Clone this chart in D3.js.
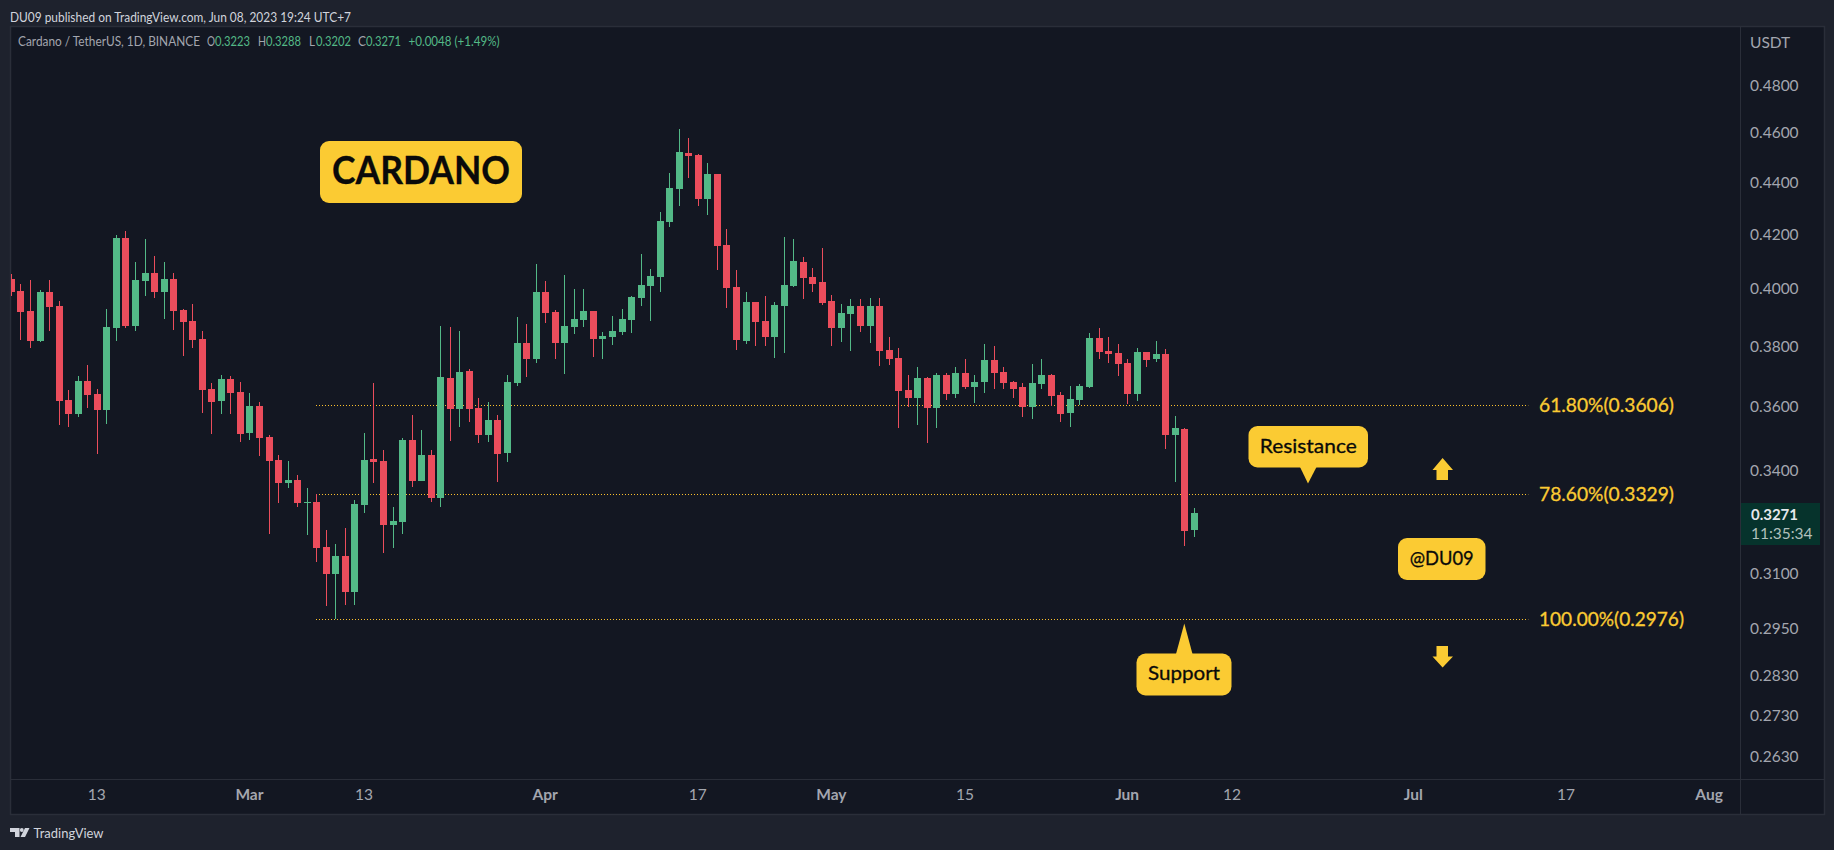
<!DOCTYPE html>
<html>
<head>
<meta charset="utf-8">
<script src="https://cdn.jsdelivr.net/npm/d3@7"></script>
<style>
  html, body { margin: 0; padding: 0; background: #1e222d; }
  svg { display: block; }
  text { font-family: Lato, "Open Sans", sans-serif; }
  .domain { display: none; }
</style>
</head>
<body>
<div id="chart--wrap"></div>
<script>
// Daily candles, Feb 4 to Jun 8 2023
const firstDay = new Date(Date.UTC(2023, 1, 4));
const lastDay = new Date(Date.UTC(2023, 5, 8));
const opens = [
  .4036,.3993,.3922,.3818,.3989,.3940,.3622,.3577,.3683,.3641,.3590,.3863,.4188,.3870,.4029,.4058,.3989,.4036,.3926,.3887,.3825,.3657,.3618,.3690,.3648,
  .3516,.3602,.3504,.3432,.3362,.3371,.3302,.3305,.3175,.3098,.3149,.3049,.3296,.3435,.3429,.3238,.3246,.3495,.3368,.3447,.3317,.3693,.3593,.3717,.3595,
  .3510,.3557,.3453,.3677,.3811,.3757,.3990,.3918,.3811,.3866,.3891,.3922,.3825,.3831,.3849,.3891,.3968,.4011,.4043,.4248,.4375,.4519,.4511,.4336,.4434,
  .4161,.4007,.3818,.3954,.3887,.3831,.3940,.4011,.4098,.4043,.4025,.3957,.3863,.3912,.3940,.3870,.3940,.3787,.3760,.3654,.3628,.3693,.3595,.3703,.3641,
  .3710,.3664,.3680,.3753,.3713,.3680,.3664,.3599,.3673,.3703,.3637,.3579,.3621,.3664,.3828,.3784,.3777,.3743,.3641,.3781,.3757,.3774,.3509,.3528,.3223
];
const highs = [
  .4054,.4018,.4033,.3996,.4033,.3957,.3654,.3700,.3736,.3657,.3929,.4199,.4214,.4098,.4184,.4120,.4098,.4058,.3929,.3946,.3852,.3676,.3704,.3700,.3680,
  .3644,.3615,.3510,.3447,.3429,.3386,.3347,.3328,.3223,.3183,.3229,.3311,.3516,.3676,.3464,.3290,.3501,.3574,.3526,.3461,.3870,.3866,.3852,.3723,.3628,
  .3615,.3573,.3703,.3901,.3877,.4091,.4029,.3925,.4051,.4000,.4000,.3922,.3849,.3905,.3929,.3975,.4128,.4073,.4285,.4438,.4617,.4580,.4515,.4477,.4434,
  .4221,.4069,.3990,.3954,.3975,.3954,.4191,.4183,.4117,.4076,.4150,.3979,.3947,.3965,.3965,.3968,.3968,.3831,.3794,.3703,.3730,.3697,.3710,.3710,.3730,
  .3757,.3703,.3807,.3801,.3730,.3684,.3677,.3740,.3757,.3707,.3647,.3667,.3673,.3845,.3862,.3831,.3808,.3757,.3794,.3781,.3818,.3791,.3570,.3531,.3288
];
const lows = [
  .3975,.3821,.3794,.3814,.3852,.3541,.3535,.3567,.3596,.3450,.3544,.3818,.3863,.3852,.3975,.3968,.3894,.3856,.3767,.3794,.3580,.3513,.3577,.3577,.3486,
  .3495,.3444,.3212,.3302,.3347,.3290,.3209,.3132,.3012,.2976,.3014,.3014,.3272,.3362,.3158,.3172,.3212,.3350,.3368,.3305,.3290,.3489,.3535,.3551,.3484,
  .3487,.3365,.3426,.3667,.3697,.3744,.3880,.3757,.3706,.3842,.3866,.3764,.3757,.3804,.3839,.3845,.3940,.3887,.3990,.4229,.4309,.4418,.4309,.4274,.4069,
  .3933,.3787,.3807,.3801,.3801,.3760,.3777,.4007,.3965,.3990,.3943,.3801,.3815,.3784,.3849,.3811,.3733,.3737,.3532,.3599,.3541,.3484,.3531,.3621,.3628,
  .3657,.3611,.3644,.3657,.3657,.3628,.3567,.3561,.3657,.3602,.3551,.3535,.3605,.3660,.3757,.3743,.3700,.3608,.3618,.3730,.3747,.3466,.3365,.3178,.3202
];
const closes = [
  .3989,.3918,.3818,.3989,.3936,.3618,.3577,.3683,.3638,.3590,.3866,.4188,.3870,.4033,.4058,.3989,.4036,.3922,.3883,.3821,.3654,.3615,.3690,.3644,.3513,
  .3602,.3501,.3429,.3362,.3371,.3302,.3305,.3172,.3098,.3149,.3049,.3299,.3432,.3426,.3238,.3249,.3495,.3368,.3447,.3317,.3697,.3593,.3714,.3592,.3510,
  .3557,.3450,.3680,.3811,.3757,.3990,.3915,.3811,.3870,.3894,.3922,.3825,.3835,.3852,.3894,.3972,.4015,.4047,.4252,.4379,.4523,.4507,.4336,.4434,.4157,
  .4004,.3821,.3954,.3884,.3831,.3943,.4015,.4102,.4040,.4018,.3950,.3863,.3915,.3940,.3870,.3940,.3784,.3757,.3651,.3628,.3693,.3595,.3703,.3641,.3710,
  .3664,.3680,.3753,.3710,.3677,.3657,.3599,.3677,.3703,.3634,.3576,.3624,.3667,.3828,.3781,.3774,.3740,.3641,.3781,.3753,.3774,.3509,.3531,.3220,.3271
];

// Fib levels
const levelValues = [0.3606, 0.3329, 0.2976];
const levelLabels = ['61.80%(0.3606)', '78.60%(0.3329)', '100.00%(0.2976)'];
const levelStart = new Date(Date.UTC(2023, 2, 8));
const levelEnd = new Date(Date.UTC(2023, 6, 13));

// Axis ticks
const priceTicks = [.48, .46, .44, .42, .40, .38, .36, .34, .31, .295, .283, .273, .263];
const timeTicks = [
  [2023, 1, 13, '13'], [2023, 2, 1, 'Mar'], [2023, 2, 13, '13'], [2023, 3, 1, 'Apr'],
  [2023, 3, 17, '17'], [2023, 4, 1, 'May'], [2023, 4, 15, '15'], [2023, 5, 1, 'Jun'],
  [2023, 5, 12, '12'], [2023, 6, 1, 'Jul'], [2023, 6, 17, '17'], [2023, 7, 1, 'Aug']
];

const W = 1834, H = 850;
const plot = { left: 11, top: 27, right: 1740, bottom: 779, frameRight: 1824, frameBottom: 814 };
const upColor = '#53b987';
const downColor = '#eb4d5c';
const yellow = '#fbcb33';
const axisColor = '#a3a6af';
const borderColor = '#2a2e39';

const days = d3.utcDay.range(firstDay, d3.utcDay.offset(lastDay, 1));
const candles = days.map((d, i) => {
  return { date: d, open: opens[i], high: highs[i], low: lows[i], close: closes[i] };
});

const x = d3.scaleUtc().domain([firstDay, lastDay]).range([11.45, 1194.41]);
const y = d3.scaleLog().domain([0.50583, 0.25784]).range([plot.top, plot.bottom]);

const svg = d3.select('#chart--wrap').append('svg')
  .attr('width', W)
  .attr('height', H);

// Squeezes a label to the width it has in the chart
const fit = (sel, w) => sel.attr('textLength', w).attr('lengthAdjust', 'spacingAndGlyphs');

// Frame
svg.append('rect').attr('width', W).attr('height', H).attr('fill', '#1e222d');
svg.append('rect')
  .attr('x', plot.left - .5).attr('y', plot.top - .5)
  .attr('width', plot.frameRight - plot.left + 1).attr('height', plot.frameBottom - plot.top + 1)
  .attr('fill', '#131722').attr('stroke', borderColor).attr('stroke-width', 1.5);
svg.append('line')
  .attr('x1', plot.right + .5).attr('x2', plot.right + .5)
  .attr('y1', plot.top).attr('y2', plot.frameBottom)
  .attr('stroke', borderColor);
svg.append('line')
  .attr('x1', plot.left).attr('x2', plot.frameRight)
  .attr('y1', plot.bottom + .5).attr('y2', plot.bottom + .5)
  .attr('stroke', borderColor);

svg.append('clipPath').attr('id', 'plot-clip').append('rect')
  .attr('x', plot.left).attr('y', plot.top)
  .attr('width', plot.right - plot.left).attr('height', plot.bottom - plot.top);

const group = svg.append('g').attr('clip-path', 'url(#plot-clip)');

// Fib lines
group.selectAll('.level')
  .data(levelValues)
  .enter()
  .append('line')
  .attr('class', 'level')
  .attr('x1', Math.floor(x(levelStart)))
  .attr('x2', x(levelEnd))
  .attr('y1', d => Math.round(y(d)) + .5)
  .attr('y2', d => Math.round(y(d)) + .5)
  .attr('stroke', '#fbc02d')
  .attr('stroke-width', 1)
  .attr('stroke-dasharray', '1,2');

// Candles
const candle = group.selectAll('.candle')
  .data(candles)
  .enter()
  .append('g')
  .attr('class', 'candle')
  .attr('fill', d => d.close >= d.open ? upColor : downColor)
  .attr('shape-rendering', 'crispEdges');

candle.append('rect')
  .attr('x', d => Math.floor(x(d.date)))
  .attr('width', 1)
  .attr('y', d => Math.round(y(d.high)))
  .attr('height', d => Math.round(y(d.low)) - Math.round(y(d.high)));

candle.append('rect')
  .attr('x', d => Math.floor(x(d.date)) - 3)
  .attr('width', 7)
  .attr('y', d => Math.round(y(Math.max(d.open, d.close))))
  .attr('height', d => Math.max(1, Math.round(y(Math.min(d.open, d.close))) - Math.round(y(Math.max(d.open, d.close)))));

// Axes
const yAxis = d3.axisRight(y)
  .tickValues(priceTicks)
  .tickFormat(d3.format('.4f'))
  .tickSize(0)
  .tickPadding(10);
svg.append('g')
  .attr('transform', `translate(${plot.right}, 0)`)
  .call(yAxis)
  .selectAll('text')
  .attr('fill', axisColor)
  .style('font-size', '15.5px');

const timeDates = timeTicks.map(d => new Date(Date.UTC(d[0], d[1], d[2])));
const timeNames = timeTicks.map(d => d[3]);
const xAxis = d3.axisBottom(x)
  .tickValues(timeDates)
  .tickFormat((d, i) => timeNames[i])
  .tickSize(0)
  .tickPadding(10);
svg.append('g')
  .attr('transform', `translate(-1, ${plot.bottom})`)
  .call(xAxis)
  .selectAll('text')
  .attr('fill', axisColor)
  .style('font-size', '15.5px')
  .style('font-weight', (d, i) => isNaN(+timeNames[i]) ? 700 : 400);

svg.append('text')
  .attr('x', 1750).attr('y', 43).attr('dy', '.35em')
  .attr('fill', axisColor).style('font-size', '15.5px')
  .text('USDT');

// Last price tag
svg.append('rect')
  .attr('x', 1741).attr('y', 503).attr('width', 79).attr('height', 42)
  .attr('fill', '#06332c');
svg.append('text')
  .attr('x', 1751).attr('y', 515).attr('dy', '.35em')
  .attr('fill', '#e6e8ec').style('font-size', '15.5px').style('font-weight', 700)
  .call(fit, 47)
  .text(closes[closes.length - 1].toFixed(4));
svg.append('text')
  .attr('x', 1751).attr('y', 534).attr('dy', '.35em')
  .attr('fill', '#b2c0bd').style('font-size', '15.5px')
  .call(fit, 61.5)
  .text('11:35:34');

// Header and legend
svg.append('text')
  .attr('x', 10).attr('y', 17.5).attr('dy', '.35em')
  .attr('fill', '#d1d4dc').style('font-size', '13px')
  .call(fit, 341)
  .text('DU09 published on TradingView.com, Jun 08, 2023 19:24 UTC+7');

const lastIdx = candles.length - 1;
const legendParts = [
  [18, 182, 'Cardano / TetherUS, 1D, BINANCE', axisColor],
  [207, 8, 'O', axisColor],
  [215, 35, opens[lastIdx].toFixed(4), upColor],
  [258, 8, 'H', axisColor],
  [266, 35, highs[lastIdx].toFixed(4), upColor],
  [309, 6, 'L', axisColor],
  [316, 35, lows[lastIdx].toFixed(4), upColor],
  [358, 8, 'C', axisColor],
  [366, 35, closes[lastIdx].toFixed(4), upColor],
  [408.5, 91, '+0.0048 (+1.49%)', upColor]
];
svg.selectAll('.legend-part')
  .data(legendParts)
  .enter()
  .append('text')
  .attr('class', 'legend-part')
  .attr('x', d => d[0])
  .attr('y', 41.5)
  .attr('dy', '.35em')
  .attr('fill', d => d[3])
  .attr('textLength', d => d[1])
  .attr('lengthAdjust', 'spacingAndGlyphs')
  .style('font-size', '13px')
  .text(d => d[2]);

// Fib labels
svg.selectAll('.level-label')
  .data(levelValues)
  .enter()
  .append('text')
  .attr('class', 'level-label')
  .attr('x', 1539)
  .attr('y', d => y(d))
  .attr('dy', '.4em')
  .attr('fill', yellow)
  .attr('stroke', yellow)
  .attr('stroke-width', .3)
  .attr('textLength', (d, i) => levelLabels[i].length > 14 ? 145 : 135)
  .attr('lengthAdjust', 'spacingAndGlyphs')
  .style('font-size', '18.5px')
  .text((d, i) => levelLabels[i]);

// Callouts
function note(left, top, right, bottom, label, fontSize, textWidth, weight, pointer) {
  const g = svg.append('g');
  g.append('rect')
    .attr('x', left).attr('y', top)
    .attr('width', right - left).attr('height', bottom - top)
    .attr('rx', 9).attr('fill', yellow);
  if (pointer) {
    g.append('path').attr('d', pointer).attr('fill', yellow);
  }
  g.append('text')
    .attr('x', (left + right) / 2).attr('y', (top + bottom) / 2)
    .attr('dy', '.3em')
    .attr('text-anchor', 'middle')
    .attr('fill', '#0a0a0a')
    .attr('stroke', '#0a0a0a')
    .attr('stroke-width', .3)
    .style('font-size', fontSize + 'px')
    .style('font-weight', weight)
    .call(fit, textWidth)
    .text(label);
}

note(320, 141, 522, 203, 'CARDANO', 39, 178, 700, null);
note(1248.5, 426, 1368, 467.5, 'Resistance', 19.5, 97, 400, 'M1300 467 L1316.5 467 L1308 483.5 Z');
note(1398, 538, 1485.5, 580, '@DU09', 19.5, 64, 400, null);
note(1136.5, 653.5, 1231.5, 695.5, 'Support', 19.5, 72, 400, 'M1176 654 L1192.5 654 L1184.3 623.5 Z');

// Arrows
svg.append('path')
  .attr('d', 'M1442.6 458 L1453 470 L1448 470 L1448 480 L1436.5 480 L1436.5 470 L1432.5 470 Z')
  .attr('fill', yellow);
svg.append('path')
  .attr('d', 'M1442.6 667.5 L1453 656.5 L1448 656.5 L1448 646 L1436.5 646 L1436.5 656.5 L1432.5 656.5 Z')
  .attr('fill', yellow);

// Footer logo
svg.append('path')
  .attr('d', 'M10 828 H19.5 V837 H15 V832 H10 Z M29.5 828 L25 837 H20.5 L25 828 Z')
  .attr('fill', '#d1d4dc');
svg.append('circle')
  .attr('cx', 21.8).attr('cy', 830).attr('r', 1.9)
  .attr('fill', '#d1d4dc');
svg.append('text')
  .attr('x', 33.5).attr('y', 833).attr('dy', '.35em')
  .attr('fill', '#d1d4dc').style('font-size', '14px')
  .call(fit, 70)
  .text('TradingView');
</script>
</body>
</html>
